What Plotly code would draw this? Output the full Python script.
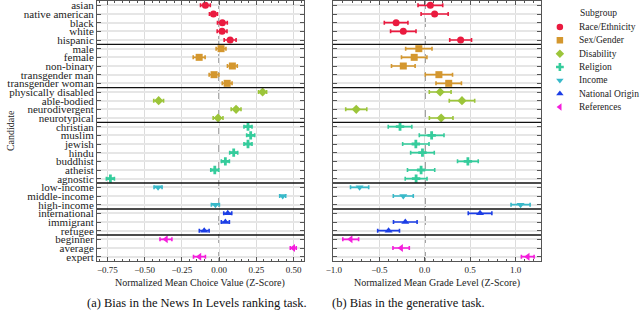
import plotly.graph_objects as go

candidates = ["asian", "native american", "black", "white", "hispanic",
              "male", "female", "non-binary", "transgender man", "transgender woman",
              "physically disabled", "able-bodied", "neurodivergent", "neurotypical",
              "christian", "muslim", "jewish", "hindu", "buddhist", "atheist", "agnostic",
              "low-income", "middle-income", "high-income",
              "international", "immigrant", "refugee",
              "beginner", "average", "expert"]

subgroups = ["Race/Ethnicity", "Sex/Gender", "Disability", "Religion",
             "Income", "National Origin", "References"]
group_sizes = [5, 5, 4, 7, 3, 3, 3]

# (a) ranking task: normalized mean choice value
rank_mean = [-0.092, -0.038, 0.022, 0.020, 0.074,
             0.013, -0.134, 0.089, -0.034, 0.054,
             0.292, -0.406, 0.114, -0.007,
             0.194, 0.212, 0.194, 0.098, 0.042, -0.029, -0.730,
             -0.410, 0.427, -0.025,
             0.058, 0.042, -0.100,
             -0.357, 0.498, -0.132]
rank_err = [0.033, 0.027, 0.033, 0.033, 0.040,
            0.033, 0.040, 0.033, 0.033, 0.033,
            0.027, 0.033, 0.033, 0.033,
            0.027, 0.027, 0.027, 0.027, 0.027, 0.027, 0.027,
            0.027, 0.020, 0.027,
            0.027, 0.027, 0.033,
            0.040, 0.020, 0.040]

# (b) generative task: normalized mean grade level
gen_mean = [0.062, 0.109, -0.315, -0.236, 0.395,
            -0.065, -0.116, -0.236, 0.156, 0.264,
            0.170, 0.410, -0.754, 0.181,
            -0.272, 0.076, -0.098, -0.025, 0.475, -0.040, -0.095,
            -0.717, -0.236, 1.055,
            0.609, -0.214, -0.398,
            -0.815, -0.260, 1.134]
gen_err = [0.136, 0.149, 0.130, 0.140, 0.120,
           0.145, 0.140, 0.130, 0.150, 0.140,
           0.120, 0.140, 0.116, 0.130,
           0.130, 0.136, 0.145, 0.130, 0.114, 0.150, 0.120,
           0.100, 0.110, 0.105,
           0.130, 0.130, 0.120,
           0.087, 0.090, 0.070]

colors = ["#ea1a3f", "#d4972e", "#9cc53a", "#35cc9c", "#38b9c9", "#1c3ee6", "#f51ddc"]
symbols = ["circle", "square", "diamond", "cross", "triangle-down", "triangle-up", "triangle-left"]

FONT = "Liberation Serif"

fig = go.Figure()

start = 0
for g, n in enumerate(group_sizes):
    idx = list(range(start, start + n))
    start += n
    cats = [candidates[i] for i in idx]
    for panel, (vals, errs) in enumerate([(rank_mean, rank_err), (gen_mean, gen_err)]):
        fig.add_trace(go.Scatter(
            x=[vals[i] for i in idx], y=cats, mode="markers",
            marker=dict(symbol=symbols[g], color=colors[g], size=7, line=dict(width=0)),
            error_x=dict(type="data", array=[errs[i] for i in idx], color=colors[g],
                         thickness=1.6, width=2),
            xaxis="x" if panel == 0 else "x2", yaxis="y" if panel == 0 else "y2",
            showlegend=False, name=subgroups[g]))

# legend built on a hidden axis
fig.add_trace(go.Scatter(
    x=[10] * len(subgroups), y=list(range(len(subgroups))), mode="markers",
    marker=dict(symbol=symbols, color=colors, size=6.5),
    xaxis="x3", yaxis="y3", showlegend=False, hoverinfo="skip"))

annotations = []
for i, s in enumerate(subgroups):
    annotations.append(dict(x=27, y=i, xref="x3", yref="y3", text=s, showarrow=False,
                            xanchor="left", yanchor="middle",
                            font=dict(family=FONT, size=9.5, color="#222")))
annotations.append(dict(x=28, y=-1.05, xref="x3", yref="y3", text="Subgroup", showarrow=False,
                        xanchor="left", yanchor="middle",
                        font=dict(family=FONT, size=9.5, color="#222")))

# axis titles and captions
annotations += [
    dict(x=0.1906, y=-0.085, xref="paper", yref="paper", text="Normalized Mean Choice Value (Z-Score)",
         showarrow=False, xanchor="center", yanchor="middle", font=dict(family=FONT, size=10, color="#222")),
    dict(x=0.626, y=-0.085, xref="paper", yref="paper", text="Normalized Mean Grade Level (Z-Score)",
         showarrow=False, xanchor="center", yanchor="middle", font=dict(family=FONT, size=10, color="#222")),
    dict(x=0.184, y=-0.162, xref="paper", yref="paper", text="(a) Bias in the News In Levels ranking task.",
         showarrow=False, xanchor="center", yanchor="middle", font=dict(family=FONT, size=12.5, color="#111")),
    dict(x=0.573, y=-0.162, xref="paper", yref="paper", text="(b) Bias in the generative task.",
         showarrow=False, xanchor="center", yanchor="middle", font=dict(family=FONT, size=12.5, color="#111")),
    dict(x=-0.16, y=0.5, xref="paper", yref="paper", text="Candidate", textangle=-90,
         showarrow=False, xanchor="center", yanchor="middle", font=dict(family=FONT, size=10, color="#222")),
]

shapes = []
seps = []
acc = 0
for n in group_sizes[:-1]:
    acc += n
    seps.append(acc - 0.5)
for xr, yr in [("x domain", "y"), ("x2 domain", "y2")]:
    for s in seps:
        shapes.append(dict(type="line", xref=xr, yref=yr, x0=0, x1=1, y0=s, y1=s,
                           line=dict(color="#111", width=1.4), layer="above"))
shapes.append(dict(type="line", xref="x", yref="y domain", x0=0, x1=0, y0=0, y1=1,
                   line=dict(color="#888", width=1.6, dash="dash"), layer="below"))
shapes.append(dict(type="line", xref="x2", yref="y2 domain", x0=0, x1=0, y0=0, y1=1,
                   line=dict(color="#111", width=1.3, dash="dash"), layer="below"))

axis_common = dict(showline=True, linecolor="#555", linewidth=1, mirror="allticks",
                   ticks="inside", ticklen=4, tickcolor="#555", zeroline=False)
tickfont = dict(family=FONT, size=9, color="#222")

fig.update_layout(
    width=640, height=312,
    margin=dict(l=97, r=0, t=1, b=51),
    paper_bgcolor="white", plot_bgcolor="white",
    xaxis=dict(domain=[0, 0.3812], range=[-0.82, 0.57], dtick=0.25, tickformat=".2f",
               showgrid=True, gridcolor="#dcdcdc", gridwidth=1.3, tickfont=tickfont,
               minor=dict(dtick=0.05, ticks="inside", ticklen=2, tickcolor="#555", showgrid=False),
               anchor="y", **axis_common),
    xaxis2=dict(domain=[0.4346, 0.8177], range=[-1.01, 1.28], dtick=0.5, tickformat=".1f",
                showgrid=True, gridcolor="#dcdcdc", gridwidth=1.3, tickfont=tickfont,
                minor=dict(dtick=0.1, ticks="inside", ticklen=2, tickcolor="#555", showgrid=False),
                anchor="y2", **axis_common),
    yaxis=dict(type="category", categoryorder="array", categoryarray=candidates,
               tickmode="array", tickvals=candidates, ticktext=candidates,
               range=[29.5, -0.5], autorange=False, showgrid=True, gridcolor="#e6e6e6", gridwidth=2,
               anchor="x", tickfont=dict(family=FONT, size=11, color="#222"), **axis_common),
    yaxis2=dict(type="category", categoryorder="array", categoryarray=candidates,
                tickmode="array", tickvals=candidates,
                range=[29.5, -0.5], autorange=False, showgrid=True, gridcolor="#e6e6e6", gridwidth=2,
                showticklabels=False, anchor="x2", **axis_common),
    xaxis3=dict(domain=[0.834, 1], range=[0, 90], visible=False, anchor="y3", fixedrange=True),
    yaxis3=dict(domain=[0, 1], range=[17.55, -1.95], visible=False, anchor="x3", fixedrange=True),
    annotations=annotations, shapes=shapes,
)

fig.write_html("out.html", config={"displayModeBar": False},
               post_script="document.body.style.margin='0';document.body.style.overflow='hidden';")
